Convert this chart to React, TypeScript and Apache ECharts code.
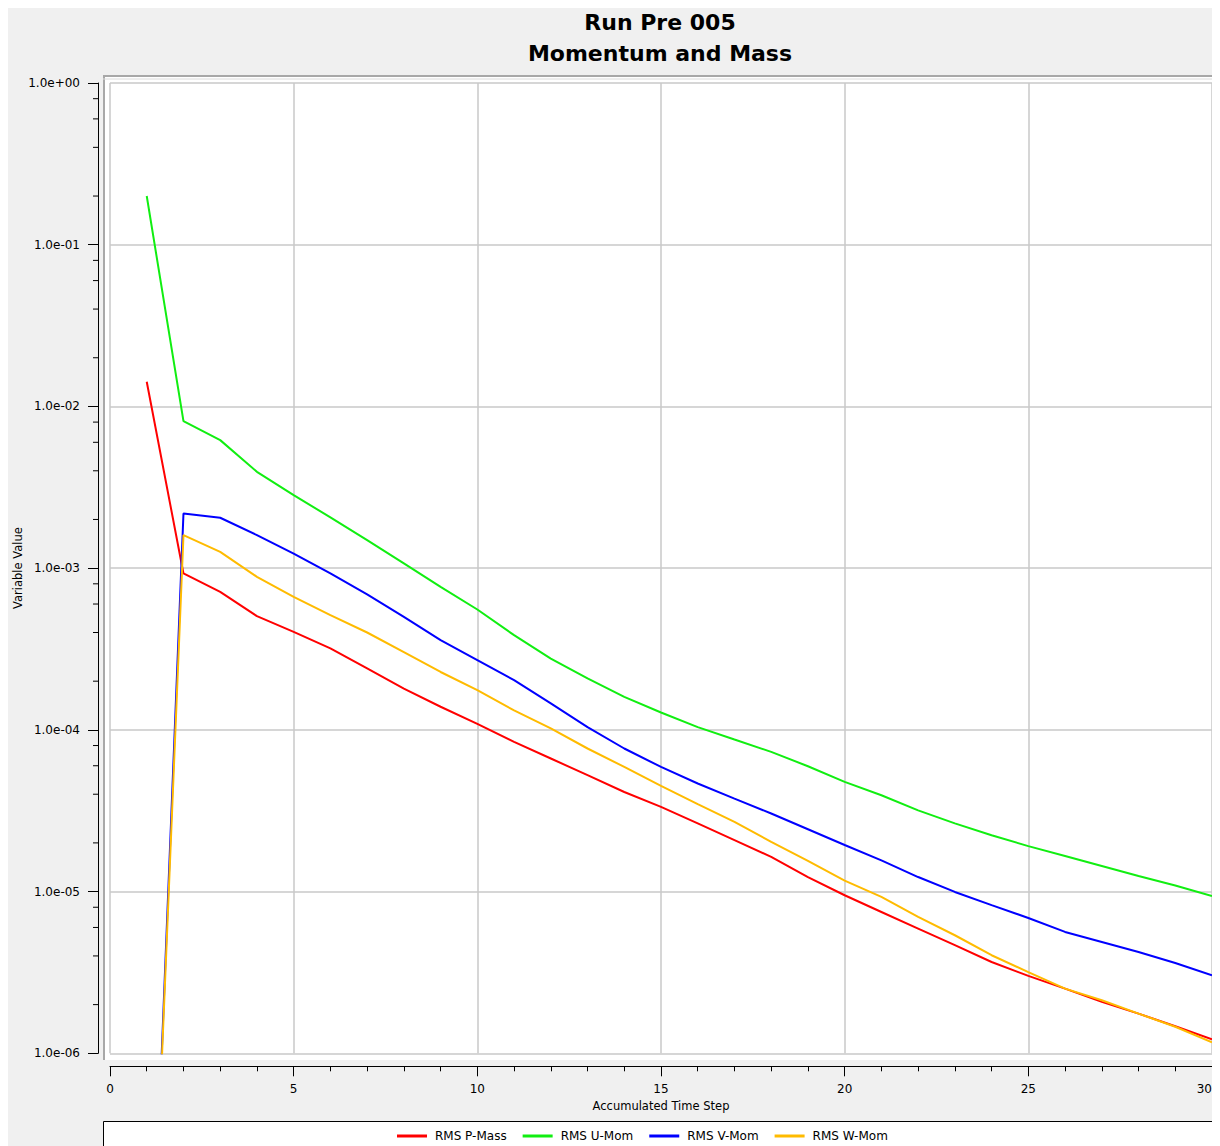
import React, { useEffect, useRef } from "react";
import * as echarts from "echarts";

const titleLines = ["Run Pre 005", "Momentum and Mass"];
const xAxisName = "Accumulated Time Step";
const yAxisName = "Variable Value";
const seriesNames = ["RMS P-Mass", "RMS U-Mom", "RMS V-Mom", "RMS W-Mom"];
const seriesColors = ["#ff0000", "#11ee11", "#0000ff", "#ffbb00"];

const steps = [1, 2, 3, 4, 5, 6, 7, 8, 9, 10, 11, 12, 13, 14, 15, 16, 17, 18, 19, 20, 21, 22, 23, 24, 25, 26, 27, 28, 29, 30];

const pMass = [1.42e-2, 9.27e-4, 7.13e-4, 5.05e-4, 4.04e-4, 3.19e-4, 2.4e-4, 1.8e-4, 1.39e-4, 1.09e-4, 8.43e-5, 6.65e-5, 5.25e-5, 4.13e-5, 3.34e-5, 2.64e-5, 2.08e-5, 1.64e-5, 1.23e-5, 9.49e-6, 7.48e-6, 5.9e-6, 4.66e-6, 3.67e-6, 3.01e-6, 2.51e-6, 2.08e-6, 1.76e-6, 1.47e-6, 1.22e-6];
const uMom = [0.2, 8.11e-3, 6.19e-3, 3.94e-3, 2.83e-3, 2.06e-3, 1.49e-3, 1.07e-3, 7.66e-4, 5.55e-4, 3.85e-4, 2.76e-4, 2.08e-4, 1.6e-4, 1.28e-4, 1.04e-4, 8.71e-5, 7.31e-5, 5.96e-5, 4.77e-5, 3.94e-5, 3.18e-5, 2.64e-5, 2.23e-5, 1.91e-5, 1.66e-5, 1.44e-5, 1.25e-5, 1.09e-5, 9.4e-6];
const vMom = [5e-9, 2.18e-3, 2.05e-3, 1.6e-3, 1.23e-3, 9.27e-4, 6.88e-4, 5.0e-4, 3.59e-4, 2.7e-4, 2.03e-4, 1.46e-4, 1.04e-4, 7.67e-5, 5.9e-5, 4.66e-5, 3.76e-5, 3.04e-5, 2.43e-5, 1.94e-5, 1.56e-5, 1.23e-5, 9.95e-6, 8.24e-6, 6.87e-6, 5.63e-6, 4.88e-6, 4.23e-6, 3.62e-6, 3.04e-6];
const wMom = [5e-9, 1.6e-3, 1.26e-3, 8.84e-4, 6.65e-4, 5.12e-4, 4.0e-4, 3.03e-4, 2.28e-4, 1.76e-4, 1.32e-4, 1.02e-4, 7.67e-5, 5.9e-5, 4.5e-5, 3.47e-5, 2.7e-5, 2.03e-5, 1.55e-5, 1.17e-5, 9.27e-6, 6.97e-6, 5.37e-6, 4.04e-6, 3.18e-6, 2.51e-6, 2.13e-6, 1.76e-6, 1.46e-6, 1.17e-6];

const seriesValues = [pMass, uMom, vMom, wMom];

const xMin = 0;
const xMax = 30;
const xInterval = 5;
const yMin = 1e-6;
const yMax = 1;
const yMinorTicks = [
  2e-6, 4e-6, 6e-6, 8e-6,
  2e-5, 4e-5, 6e-5, 8e-5,
  2e-4, 4e-4, 6e-4, 8e-4,
  2e-3, 4e-3, 6e-3, 8e-3,
  2e-2, 4e-2, 6e-2, 8e-2,
  2e-1, 4e-1, 6e-1, 8e-1,
];

const FONT = "DejaVu Sans";

function fmtExp(v: number): string {
  const e = Math.round(Math.log10(v));
  const m = v / Math.pow(10, e);
  const sign = e < 0 ? "-" : "+";
  return `${m.toFixed(1)}e${sign}${String(Math.abs(e)).padStart(2, "0")}`;
}

export default function App() {
  const ref = useRef<HTMLDivElement>(null);
  useEffect(() => {
    if (!ref.current) return;
    document.documentElement.style.overflow = "hidden";
    document.body.style.overflow = "hidden";
    const chart = echarts.init(ref.current, null, { renderer: "svg" });
    const yOffset = 12;
    const lineSeries = seriesNames.map((name, i) => ({
      name,
      type: "line",
      data: steps.map((s, k) => [s, seriesValues[i][k]]),
      showSymbol: false,
      symbol: "none",
      clip: true,
      z: 5,
      lineStyle: { color: seriesColors[i], width: 2 },
      itemStyle: { color: seriesColors[i] },
    }));
    const option: any = {
      animation: false,
      backgroundColor: "#f0f0f0",
      textStyle: { fontFamily: FONT },
      graphic: [
        {
          type: "rect",
          z: -10,
          shape: { x: 95, y: 67, width: 1115, height: 985 },
          style: { fill: "#ffffff", stroke: null },
        },
        {
          type: "line",
          z: -9,
          shape: { x1: 95, y1: 68, x2: 1210, y2: 68 },
          style: { stroke: "#a8a8a8", lineWidth: 2 },
        },
        {
          type: "line",
          z: -9,
          shape: { x1: 96, y1: 67, x2: 96, y2: 1052 },
          style: { stroke: "#a8a8a8", lineWidth: 2 },
        },
        {
          type: "line",
          z: -9,
          shape: { x1: 95, y1: 71, x2: 1210, y2: 71 },
          style: { stroke: "#dcdcdc", lineWidth: 1 },
        },
        {
          type: "rect",
          z: -10,
          shape: { x: 95.5, y: 1113.5, width: 1115, height: 60 },
          style: { fill: "#ffffff", stroke: "#000000", lineWidth: 1 },
        },
        {
          type: "text",
          x: 652,
          y: 14,
          style: {
            text: titleLines[0],
            fontFamily: FONT,
            fontWeight: "bold",
            fontSize: 22,
            fill: "#000",
            textAlign: "center",
            textVerticalAlign: "middle",
          },
        },
        {
          type: "text",
          x: 652,
          y: 45,
          style: {
            text: titleLines[1],
            fontFamily: FONT,
            fontWeight: "bold",
            fontSize: 22,
            fill: "#000",
            textAlign: "center",
            textVerticalAlign: "middle",
          },
        },
      ],
      legend: {
        data: seriesNames,
        left: 389,
        top: 1122,
        padding: 0,
        icon: "rect",
        itemWidth: 30,
        itemHeight: 3,
        itemGap: 16,
        textStyle: { fontFamily: FONT, fontSize: 12, color: "#000", padding: [0, 0, 0, 3] },
      },
      grid: { left: 102, right: 8, top: 75, bottom: 92.7, containLabel: false, outerBoundsMode: "none" },
      xAxis: {
        type: "value",
        min: xMin,
        max: xMax,
        interval: xInterval,
        offset: 13,
        name: xAxisName,
        nameLocation: "middle",
        nameGap: 34,
        nameMoveOverlap: false,
        nameTextStyle: { fontFamily: FONT, fontSize: 11.5, color: "#000" },
        axisLine: { show: true, onZero: false, lineStyle: { color: "#000", width: 1 } },
        axisTick: { show: true, length: 10, lineStyle: { color: "#000" } },
        minorTick: { show: true, splitNumber: 5, length: 5, lineStyle: { color: "#000" } },
        axisLabel: { margin: 17, fontFamily: FONT, fontSize: 12, color: "#000", alignMaxLabel: "right" },
        splitLine: { show: true, lineStyle: { color: "#c8c8c8", width: 1.5 } },
      },
      yAxis: {
        type: "log",
        logBase: 10,
        min: yMin,
        max: yMax,
        offset: yOffset,
        name: yAxisName,
        nameLocation: "middle",
        nameGap: 74,
        nameMoveOverlap: false,
        nameTextStyle: { fontFamily: FONT, fontSize: 11.5, color: "#000" },
        axisLine: { show: true, onZero: false, lineStyle: { color: "#000", width: 1 } },
        axisTick: { show: true, length: 10, lineStyle: { color: "#000" } },
        axisLabel: {
          margin: 18,
          fontFamily: FONT,
          fontSize: 12,
          color: "#000",
          formatter: (v: number) => fmtExp(v),
        },
        splitLine: { show: true, lineStyle: { color: "#c8c8c8", width: 1.5 } },
      },
      series: [
        ...lineSeries,
        {
          name: "yMinorTicks",
          type: "custom",
          silent: true,
          clip: false,
          z: 3,
          data: yMinorTicks.map((v) => [xMin, v]),
          encode: { x: 0, y: 1 },
          renderItem: (params: any, api: any) => {
            const p = api.coord([api.value(0), api.value(1)]);
            const x2 = p[0] - yOffset;
            return {
              type: "line",
              shape: { x1: x2 - 5, y1: p[1], x2: x2, y2: p[1] },
              style: { stroke: "#000", lineWidth: 1 },
            };
          },
        },
      ],
    };
    chart.setOption(option);
    return () => chart.dispose();
  }, []);
  return <div ref={ref} style={{ width: 1212, height: 1138 }} />;
}
